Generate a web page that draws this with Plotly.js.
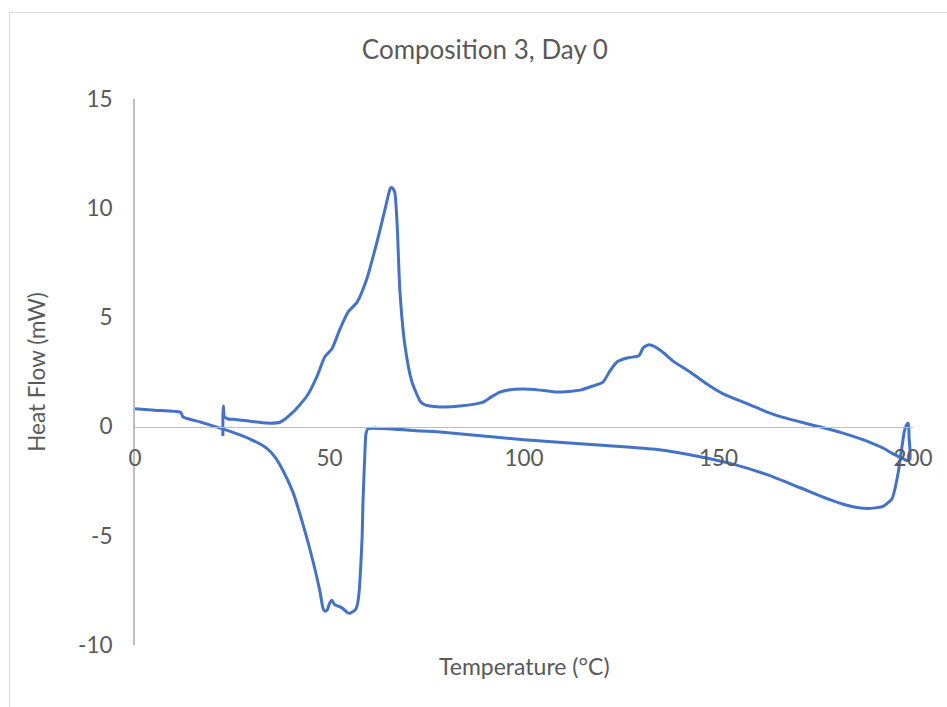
<!DOCTYPE html>
<html>
<head>
<meta charset="utf-8">
<script src="https://cdn.plot.ly/plotly-3.0.1.min.js"></script>
<style>
  html, body { margin: 0; padding: 0; background: #ffffff; overflow: hidden; }
  #wrap { position: relative; width: 947px; height: 707px; }
  #chart { position: absolute; left: 0; top: 0; width: 947px; height: 707px; }
  #frame { position: absolute; left: 9px; top: 12px; width: 1000px; height: 1000px;
           border: 1px solid #d9d9d9; pointer-events: none; }
</style>
</head>
<body>
<div id="wrap">
  <div id="chart"></div>
  <div id="frame"></div>
</div>
<script>
// DSC run: initial baseline, heating scan up to 200 °C, then the cooling scan back down.
const baselineTemp = [0, 5, 11.6, 12.0, 12.3, 17, 21.9];
const baselineFlow = [0.82, 0.75, 0.66, 0.58, 0.45, 0.2, -0.07];

const heatingTemp = [25, 29.6, 33.9, 36.0, 38.0, 40.6, 43.7, 45.8, 47.6, 48.3, 48.8, 49.4,
  50.0, 50.6, 51.3, 51.9, 53.2, 54.5, 55.2, 55.8, 56.6, 57.1, 57.6, 58.0, 58.4, 58.6, 59.1, 59.4,
  59.9, 73.3, 78.4, 100, 120, 133.2, 145.2, 153.7, 162.5, 171, 177.9, 183, 188.2, 192.3, 194.6,
  196.1, 197.1, 197.8, 198.5, 198.8, 199.0, 199.2];
const heatingFlow = [-0.25, -0.57, -1.0, -1.4, -2.0, -3.0, -4.8, -6.2, -7.6, -8.3, -8.45, -8.4,
  -8.1, -7.95, -8.15, -8.2, -8.3, -8.5, -8.55, -8.5, -8.4, -8.2, -7.6, -6.5, -5.0, -3.5, -1.2, -0.3,
  -0.1, -0.2, -0.25, -0.6, -0.85, -1.03, -1.38, -1.72, -2.2, -2.8, -3.3, -3.6, -3.75, -3.65, -3.3,
  -2.2, -1.0, -0.2, 0.12, 0.15, -0.5, -1.5];

const coolingTemp = [198.5, 196.7, 194.9, 192.3, 190, 187.1, 182, 178, 173.5, 166.6, 162, 158.1,
  151.2, 147, 142.7, 138.3, 136.4, 134.2, 132.5, 131.6, 130.6, 129.8, 129.3, 126.5, 123.9, 122.1,
  120.3, 117.7, 114.4, 108.5, 104.1, 99.7, 96, 93.8, 91.5, 89.5, 83.5, 78.4, 75.8, 74, 73.3, 71.2,
  69.4, 68.1, 67.4, 66.8, 66.3, 65.9, 65.6, 64.3, 62.2, 59.6, 57.1, 54.8, 52.7, 50.6, 48.8, 46.8,
  44.2, 40.6, 37.3, 33.9, 29.6, 25.2, 23.9, 23.0, 22.7, 22.6, 22.6];
const coolingFlow = [-1.55, -1.4, -1.25, -0.98, -0.8, -0.6, -0.3, -0.1, 0.1, 0.42, 0.7, 1.0,
  1.5, 1.95, 2.5, 3.0, 3.3, 3.6, 3.74, 3.72, 3.6, 3.3, 3.23, 3.14, 2.96, 2.55,
  2.04, 1.86, 1.67, 1.58, 1.67, 1.72, 1.68, 1.58, 1.35, 1.12, 0.94, 0.9, 0.94, 1.05, 1.17, 2.04,
  3.7, 6.2, 9.2, 10.7, 10.9, 10.95, 10.9, 9.97, 8.45, 6.77, 5.7, 5.25, 4.47, 3.55, 3.2, 2.3,
  1.4, 0.66, 0.2, 0.16, 0.25, 0.34, 0.35, 0.45, 0.94, 0.5, -0.43];

const xTicks = [0, 50, 100, 150, 200];
const yTicks = [-10, -5, 0, 5, 10, 15];

const temperature = baselineTemp.concat(heatingTemp, coolingTemp);
const heatFlow = baselineFlow.concat(heatingFlow, coolingFlow);

const textColor = '#595959';
const axisColor = '#bfbfbf';
const fontFamily = 'Lato, "Open Sans", sans-serif';

const trace = {
  x: temperature,
  y: heatFlow,
  type: 'scatter',
  mode: 'lines',
  line: { color: '#4472C4', width: 3, shape: 'spline', smoothing: 0.6 },
  hoverinfo: 'x+y'
};

const layout = {
  width: 947,
  height: 707,
  margin: { l: 135, r: 34, t: 99, b: 62 },
  paper_bgcolor: '#ffffff',
  plot_bgcolor: '#ffffff',
  showlegend: false,
  font: { family: fontFamily, color: textColor, size: 22 },
  title: {
    text: 'Composition 3, Day 0',
    font: { family: fontFamily, size: 26, color: textColor },
    xref: 'container', x: 0.512, xanchor: 'center',
    yref: 'container', y: 1 - 50 / 707, yanchor: 'middle'
  },
  xaxis: {
    range: [0, 200],
    tickvals: xTicks,
    ticktext: xTicks.map(String),
    showgrid: false,
    zeroline: false,
    showline: true,
    linecolor: axisColor,
    linewidth: 1.5,
    ticks: '',
    anchor: 'free',
    position: 0.4,
    ticklabelstandoff: 11,
    tickfont: { family: fontFamily, size: 22.5, color: textColor },
    fixedrange: true
  },
  yaxis: {
    range: [-10, 15],
    tickvals: yTicks,
    ticktext: yTicks.map(String),
    showgrid: false,
    zeroline: false,
    showline: true,
    linecolor: axisColor,
    linewidth: 2,
    ticks: '',
    ticklabelstandoff: 16,
    tickfont: { family: fontFamily, size: 22.5, color: textColor },
    title: {
      text: 'Heat Flow (mW)',
      font: { family: fontFamily, size: 22.5, color: textColor },
      standoff: 26
    },
    fixedrange: true
  },
  annotations: [{
    text: 'Temperature (°C)',
    xref: 'paper', yref: 'paper',
    x: 0.5, y: -(666 - 645) / 546,
    xanchor: 'center', yanchor: 'middle',
    showarrow: false,
    font: { family: fontFamily, size: 23, color: textColor }
  }]
};

Plotly.newPlot('chart', [trace], layout, { displayModeBar: false, staticPlot: true });
</script>
</body>
</html>
